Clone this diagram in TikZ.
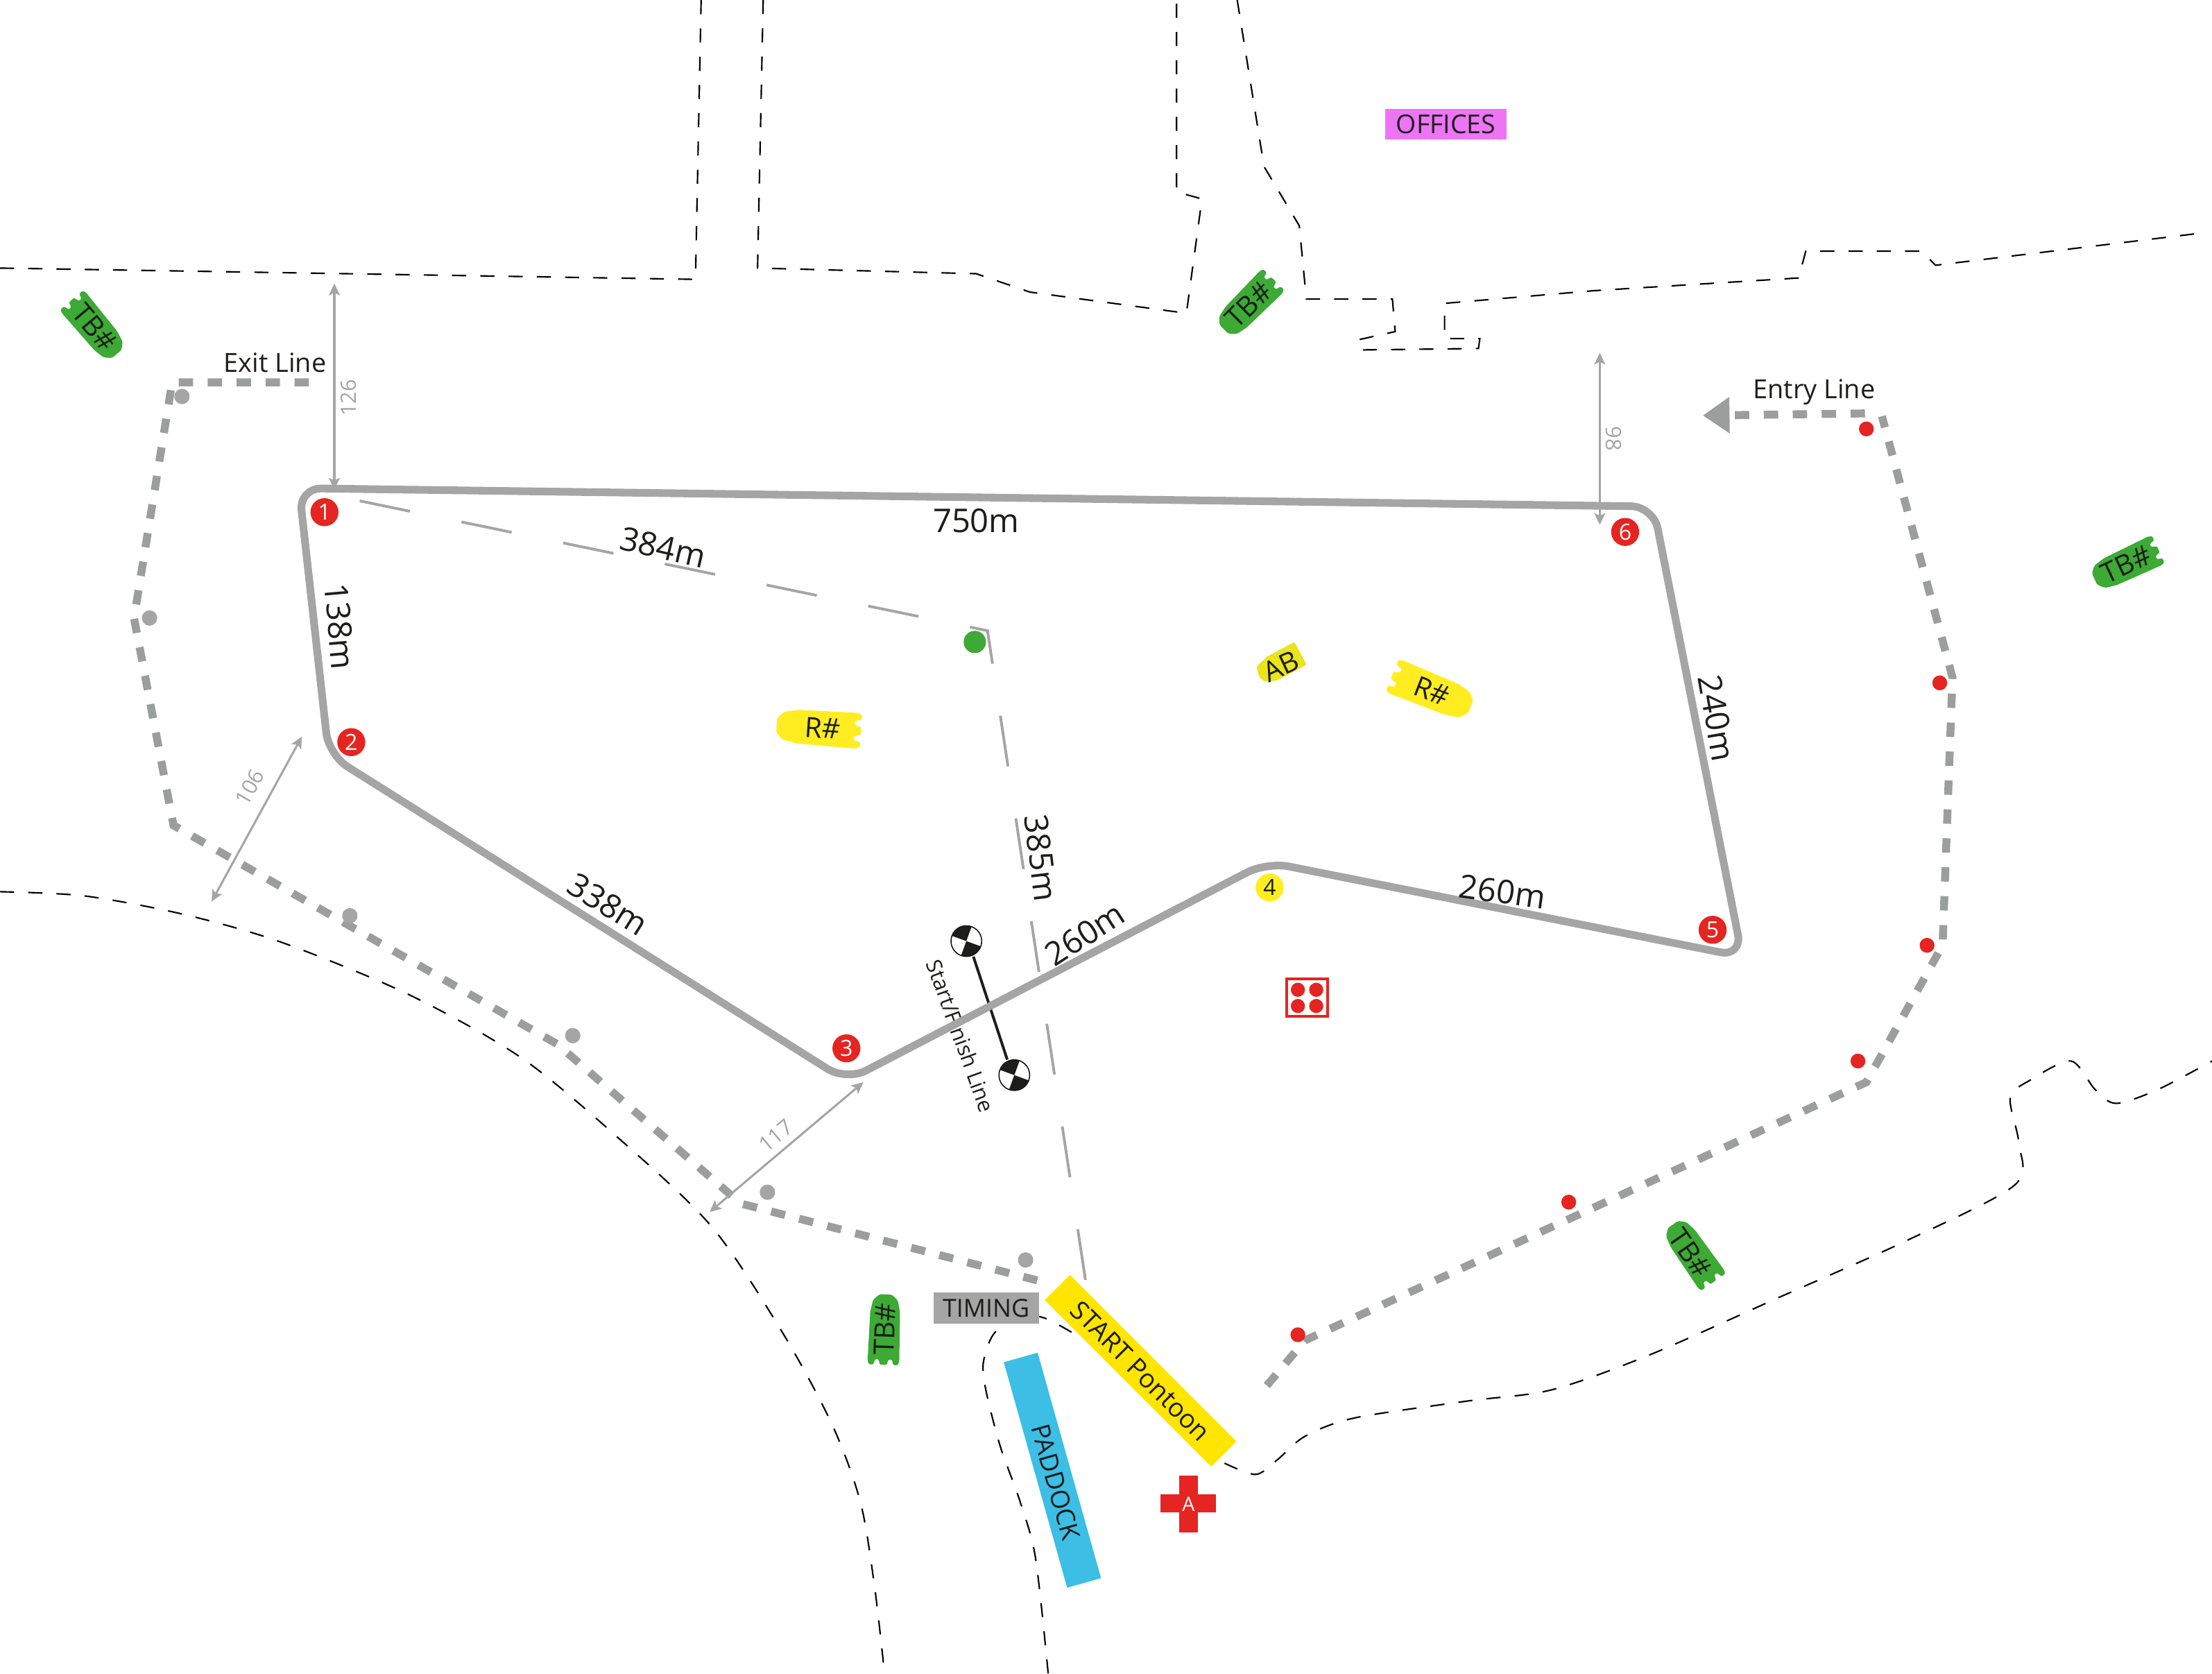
\documentclass[tikz,border=0pt]{standalone}
\usepackage{xcolor}
\usepackage{fontspec}
\setmainfont{Open Sans}
\usetikzlibrary{arrows.meta}
\definecolor{trackgrey}{HTML}{A5A5A5}
\definecolor{lanegrey}{HTML}{9C9E9E}
\definecolor{inkblack}{HTML}{1D1D1B}
\definecolor{markred}{HTML}{E52521}
\definecolor{boatgreen}{HTML}{3DAA35}
\definecolor{boatyellow}{HTML}{FFED22}
\definecolor{abyellow}{HTML}{E9E41B}
\definecolor{pontoonyellow}{HTML}{FFE500}
\definecolor{paddockblue}{HTML}{3CBEE5}
\definecolor{officepink}{HTML}{EE74F6}
\tikzset{
  shoreline/.style={draw=black,line width=0.6pt,dash pattern=on 5.7pt off 5.7pt},
  lapline/.style={draw=lanegrey,line width=3.2pt,dash pattern=on 5.8pt off 5.88pt},
  trackline/.style={draw=trackgrey,line width=3.1pt,rounded corners=9pt},
  courseline/.style={draw=trackgrey,line width=1.1pt,dash pattern=on 20.7pt off 21.2pt},
  dimline/.style={draw=trackgrey,line width=0.85pt,{Stealth[length=4.7pt,width=4.4pt,inset=1pt]}-{Stealth[length=4.7pt,width=4.4pt,inset=1pt]}},
  distlabel/.style={text=inkblack,font=\fontsize{13.2}{13.2}\selectfont,inner sep=0pt},
  dimlabel/.style={text=trackgrey,font=\fontsize{8.6}{8.6}\selectfont,inner sep=0pt},
  maplabel/.style={text=inkblack,font=\fontsize{10.6}{10.6}\selectfont,inner sep=0pt},
  boatlabel/.style={text=inkblack,font=\fontsize{11.3}{11.3}\selectfont,inner sep=0pt},
  rednum/.style={circle,fill=markred,text=white,minimum size=11.3pt,inner sep=0pt,font=\fontsize{9}{9}\selectfont},
  yellownum/.style={circle,fill=boatyellow,text=inkblack,minimum size=11.3pt,inner sep=0pt,font=\fontsize{9}{9}\selectfont},
  reddot/.style={circle,fill=markred,minimum size=6pt,inner sep=0pt},
  greydot/.style={circle,fill=trackgrey,minimum size=6.2pt,inner sep=0pt},
  boxlabel/.style={rectangle,text=inkblack,inner sep=0pt,font=\fontsize{10.5}{10.5}\selectfont},
  boat/.pic={
    \fill[pic actions,rounded corners=0.6pt] (-13pt,6.4pt) -- (7pt,6pt) -- (11.7pt,5pt) -- (14pt,2.5pt) -- (14pt,-2.5pt)
      -- (11.7pt,-5pt) -- (7pt,-6pt) -- (-13pt,-6.4pt) -- (-14.4pt,-5.8pt) -- (-14.4pt,-4pt) -- (-12.2pt,-3.4pt)
      -- (-12.2pt,-2pt) -- (-14.4pt,-1.4pt) -- (-14.4pt,1.4pt) -- (-12.2pt,2pt) -- (-12.2pt,3.4pt)
      -- (-14.4pt,4pt) -- (-14.4pt,5.8pt) -- cycle;
  },
  ankerboat/.pic={
    \fill[pic actions,rounded corners=0.5pt] (-9.6pt,5.2pt) -- (4pt,5.2pt) -- (8.6pt,3.2pt) -- (9.6pt,0.6pt) -- (8.6pt,-3.6pt)
      -- (3pt,-5.2pt) -- (-9.6pt,-5.2pt) -- cycle;
  },
  checker/.pic={
    \draw[fill=white,line width=0.4pt] (0,0) circle (6.2pt);
    \fill[inkblack] (0,0) -- (6.2pt,0) arc (0:-90:6.2pt) -- cycle;
    \fill[inkblack] (0,0) -- (-6.2pt,0) arc (180:90:6.2pt) -- cycle;
  }
}
\begin{document}
\begin{tikzpicture}[x=0.02cm,y=-0.02cm]
\useasboundingbox (0,0) rectangle (1568,1186);
\draw[shoreline] (0,190) -- (493,198) -- (497,0);
\draw[shoreline] (541,0) -- (537,190) -- (692,194) -- (730,207) -- (841,222) -- (852,141) -- (834,136) -- (834,0);
\draw[shoreline] (877,0) -- (896,118) -- (921,160) -- (926,212) -- (987,212) -- (989,235) -- (962,241) -- (966,248) -- (1048,247) -- (1049,240) -- (1024,240) -- (1024,215) -- (1130,206) -- (1275,197) -- (1280,178) -- (1362,178) -- (1372,188) -- (1562,165);
\draw[shoreline] plot[smooth] coordinates {(0,632) (60,635) (130,648) (200,668) (290,705) (370,750) (440,808) (505,870) (555,945) (590,1010) (610,1065) (620,1125) (627,1186)};
\draw[shoreline] plot[smooth] coordinates {(743,1186) (734,1104) (723,1064) (709,1025) (699,986) (697,966) (704,946) (720,933) (740,934) (766,948)};
\draw[shoreline] plot[smooth] coordinates {(868,1037) (890,1045) (905,1035) (925,1018) (960,1005) (1040,993) (1100,985) (1170,960) (1260,920) (1350,880) (1428,840) (1431,810) (1425,778) (1440,765) (1468,752) (1485,772) (1500,782) (1530,772) (1568,752)};

\draw[lapline] (219,271) -- (122,271) -- (95,438) -- (123,585) -- (395,740) -- (525,853) -- (745,910);
\draw[lapline] (898,982) -- (925,950) -- (1323,767) -- (1377,670) -- (1384,480) -- (1334,295);
\draw[lapline,-{Triangle[length=10.8pt,width=14pt]}] (1322,293) -- (1207,294.5);

\draw[courseline] (255,355) -- (700,447) -- (770,911);

\node at (681,734) [maplabel,rotate=-70,font=\fontsize{8.6}{8.6}\selectfont] (finishlabel) {Start/Finish Line};
\pic[rotate=-20] at (685,667) {checker};
\pic[rotate=-20] at (719,762) {checker};
\coordinate (fin1) at (690,678);
\coordinate (fin2) at (714,751);
\draw[inkblack,line width=1.1pt] (fin1) -- (fin2);

\coordinate (c1) at (212,346);
\coordinate (c2) at (233,535);
\coordinate (c3) at (600,766);
\coordinate (c4) at (898,611);
\coordinate (c5) at (1235,678);
\coordinate (c6) at (1172,359);
\draw[trackline] (c1) -- (c2) -- (c3) -- (c4) -- (c5) -- (c6) -- cycle;

\node at (692,369) [distlabel] (d750) {750m};
\node at (470,388) [distlabel,rotate=-13] (d384) {384m};
\node at (241,444) [distlabel,rotate=-85] (d138) {138m};
\node at (1217,509) [distlabel,rotate=-80] (d240) {240m};
\node at (431,641) [distlabel,rotate=-32] (d338) {338m};
\node at (738,608) [distlabel,rotate=-83] (d385) {385m};
\node at (769,662) [distlabel,rotate=33] (d260a) {260m};
\node at (1065,632) [distlabel,rotate=-8] (d260b) {260m};

\coordinate (a1) at (237,201);
\coordinate (a2) at (237,347);
\coordinate (b1) at (1134,250);
\coordinate (b2) at (1134,372);
\coordinate (e1) at (214,522);
\coordinate (e2) at (150,639);
\coordinate (f1) at (612,767);
\coordinate (f2) at (503,859);
\draw[dimline] (a1) -- (a2);
\draw[dimline] (b1) -- (b2);
\draw[dimline] (e1) -- (e2);
\draw[dimline] (f1) -- (f2);
\node at (247,282) [dimlabel,rotate=90] (w126) {126};
\node at (1144,311) [dimlabel,rotate=-90] (w98) {98};
\node at (177,558) [dimlabel,rotate=60] (w106) {106};
\node at (550,805) [dimlabel,rotate=40] (w117) {117};

\node at (230,363) [rednum] (n1) {1};
\node at (249,526) [rednum] (n2) {2};
\node at (600,743) [rednum] (n3) {3};
\node at (900,629) [yellownum] (n4) {4};
\node at (1214,659) [rednum] (n5) {5};
\node at (1152,377) [rednum] (n6) {6};

\node at (129,281) [greydot] (g1) {};
\node at (106,438) [greydot] (g2) {};
\node at (248,649) [greydot] (g3) {};
\node at (406,734) [greydot] (g4) {};
\node at (544,845) [greydot] (g5) {};
\node at (727,893) [greydot] (g6) {};
\node at (1323,304) [reddot] (r1) {};
\node at (1375,484) [reddot] (r2) {};
\node at (1366,670) [reddot] (r3) {};
\node at (1317,752) [reddot] (r4) {};
\node at (1112,852) [reddot] (r5) {};
\node at (920,946) [reddot] (r6) {};
\node at (691,455) [circle,fill=boatgreen,minimum size=9pt,inner sep=0pt] (gate) {};

\node at (195,257) [maplabel] (exitlabel) {Exit Line};
\node at (1286,278) [maplabel] (entrylabel) {Entry Line};
\node at (1025,88) [boxlabel,fill=officepink,minimum width=48.8pt,minimum height=12.4pt] (offices) {OFFICES};
\node at (699,927) [boxlabel,fill=trackgrey,minimum width=42.5pt,minimum height=12.4pt,font=\fontsize{10}{10}\selectfont] (timing) {TIMING};
\node at (808.5,971.5) [boxlabel,fill=pontoonyellow,rotate=-45,minimum width=95pt,minimum height=14.4pt] (pontoon) {START Pontoon};
\node at (746,1042) [boxlabel,fill=paddockblue,rotate=-74.3,minimum width=94.5pt,minimum height=14.2pt,font=\fontsize{10.3}{10.3}\selectfont] (paddock) {\hspace*{10pt}PADDOCK};

\pic[fill=boatgreen,rotate=-50] at (67,232) {boat};
\pic[fill=boatgreen,rotate=225] at (885,216) {boat};
\pic[fill=boatgreen,rotate=205] at (1507,400) {boat};
\pic[fill=boatgreen,rotate=125] at (1200,888) {boat};
\pic[fill=boatgreen,rotate=88] at (627,942) {boat};
\pic[fill=boatyellow,rotate=176,xscale=1.2,yscale=1.13] at (580,516) {boat};
\pic[fill=boatyellow,rotate=-22,xscale=1.2,yscale=1.13] at (1015,490) {boat};
\pic[fill=abyellow,rotate=208] at (907,471) {ankerboat};
\node at (67,232) [boatlabel,rotate=-50] (tb1) {TB\#};
\node at (885,216) [boatlabel,rotate=45] (tb2) {TB\#};
\node at (1507,400) [boatlabel,rotate=25] (tb3) {TB\#};
\node at (1198,888) [boatlabel,rotate=-55] (tb4) {TB\#};
\node at (627,942) [boatlabel,rotate=88] (tb5) {TB\#};
\node at (583,516) [boatlabel,rotate=-4] (rb1) {R\#};
\node at (1015,490) [boatlabel,rotate=-21] (rb2) {R\#};
\node at (908,472) [boatlabel,rotate=25] (ab) {AB};

\fill[markred] (836,1046) rectangle (849,1086);
\fill[markred] (822.5,1059) rectangle (862,1072);
\node at (842.5,1066) [text=white,inner sep=0pt,font=\fontsize{8}{8}\selectfont] (aid) {A};

\node at (926.5,707) [rectangle,draw=markred,line width=1.1pt,minimum width=16.5pt,minimum height=15pt,inner sep=0pt] (rescue) {};
\foreach \px in {920,933}
  \foreach \py in {701.5,713}
    \fill[markred] (\px,\py) circle (5);
\end{tikzpicture}
\end{document}
